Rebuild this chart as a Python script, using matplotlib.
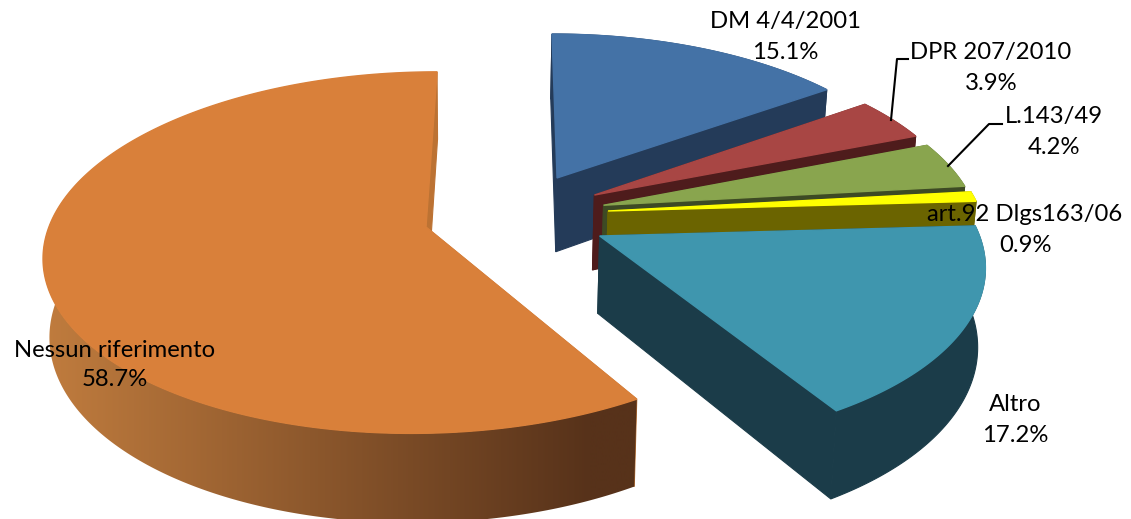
import numpy as np
import matplotlib
matplotlib.use("Agg")
import matplotlib.pyplot as plt
from matplotlib.patches import Polygon
from matplotlib.colors import to_rgb

labels = ["DM 4/4/2001", "DPR 207/2010", "L.143/49", "art.92 Dlgs163/06", "Altro", "Nessun riferimento"]
values = [15.1, 3.9, 4.2, 0.9, 17.2, 58.7]

top_colors = ["#4472A6", "#A84644", "#89A54E", "#FFFF00", "#3F96AE", "#D9803A"]
side_colors = ["#243B59", "#4E1C1C", "#3D4A24", "#6B6400", "#1B3C49", "#BC7233"]
# explosion offset of each slice, in pie radii (right, away from viewer)
explode_x = [0.116, 0.216, 0.239, 0.250, 0.223, -0.236]
explode_y = [0.305, 0.202, 0.142, 0.1085, -0.0335, 0.0169]
label_xy = [(785, 37), (991, 68), (1054, 132), (1025, 230), (1015, 420), (115, 365)]
line_gap = [1.62, 1.62, 1.62, 1.62, 1.62, 1.45]

# perspective camera
X0, Y0, SX, SY, K, DROP = 515.0, 230.0, 378.0, 178.0, 0.142, 77.0
VX, VS = 470.0, 0.985


def project(x, y, bottom=False):
    w = 1 + K * y
    px = X0 + SX * x / w
    py = Y0 - SY * y / w
    if bottom:
        py = py + DROP / w
        px = VX + (px - VX) * VS
    return np.column_stack([px, py])


fig = plt.figure(figsize=(11.31, 5.19), dpi=100)
ax = fig.add_axes([0, 0, 1, 1])

grad_left = np.array(to_rgb("#C07C3E"))
grad_right = np.array(to_rgb("#57321A"))

total = sum(values)
start = 0.0
for i, v in enumerate(values):
    end = start + v / total * 2 * np.pi
    th = np.linspace(start, end, max(int(v * 8), 12))
    ox, oy = explode_x[i], explode_y[i]
    ax_, ay_ = ox + np.sin(th), oy + np.cos(th)
    cx, cy = np.array([ox]), np.array([oy])
    at, ab = project(ax_, ay_), project(ax_, ay_, True)
    ct, cb = project(cx, cy), project(cx, cy, True)
    z = 2 + i * 2
    # radial walls
    for idx in (-1, 0):
        ax.add_patch(Polygon(np.vstack([ct, at[idx], ab[idx], cb]), closed=True,
                             fc=side_colors[i], ec=side_colors[i], lw=0.8, zorder=z))
    # outer wall
    if i == len(values) - 1:
        front = np.cos(th) <= 0.3
        wall = Polygon(np.vstack([at[front], ab[front][::-1]]), closed=True,
                       fc="none", ec="none", transform=ax.transData)
        ax.add_patch(wall)
        xs = np.linspace(42, 637, 400)
        f = np.clip((xs - 45) / (590 - 45), 0, 1)[None, :, None]
        img = grad_left[None, None, :] * (1 - f) + grad_right[None, None, :] * f
        im = ax.imshow(img, extent=(42, 637, 519, 0), aspect="auto", zorder=z,
                       interpolation="bilinear")
        im.set_clip_path(wall)
    else:
        ax.add_patch(Polygon(np.vstack([at, ab[::-1]]), closed=True,
                             fc=side_colors[i], ec=side_colors[i], lw=0.8, zorder=z))
    # top face
    ax.add_patch(Polygon(np.vstack([ct, at]), closed=True, fc=top_colors[i],
                         ec=top_colors[i], lw=1.0, zorder=z + 1))
    start = end

# leader lines
ax.plot([891, 897, 908], [120, 59, 59], color="black", lw=1.5, zorder=20)
ax.plot([948, 989, 1002], [166, 124, 124], color="black", lw=1.5, zorder=20)

for name, v, (tx, ty), gap in zip(labels, values, label_xy, line_gap):
    ax.text(tx, ty, f"{name}\n{v}%", ha="center", va="center", fontsize=17.2,
            family="Lato", color="black", linespacing=gap, zorder=30)

ax.set_xlim(0, 1131)
ax.set_ylim(519, 0)
ax.axis("off")

fig.savefig("out.png", dpi=100)
